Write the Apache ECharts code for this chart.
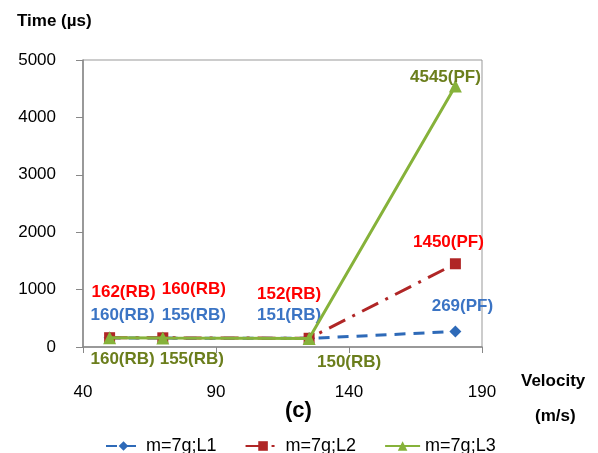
<!DOCTYPE html>
<html><head><meta charset="utf-8">
<script src="https://cdn.jsdelivr.net/npm/echarts@6/dist/echarts.min.js"></script>
<style>html,body{margin:0;padding:0;background:#fff}#c{width:598px;height:453px}</style>
</head><body><div id="c"></div>
<script>
var velocity = [50, 70, 125, 180];
var seriesNames = ['m=7g;L1', 'm=7g;L2', 'm=7g;L3'];
var timeL1 = [160, 155, 151, 269];
var timeL2 = [162, 160, 152, 1450];
var timeL3 = [160, 155, 150, 4545];
var modeL1 = ['RB', 'RB', 'RB', 'PF'];
var modeL2 = ['RB', 'RB', 'RB', 'PF'];
var modeL3 = ['RB', 'RB', 'RB', 'PF'];
var xTicks = [40, 90, 140, 190];
var yTicks = [0, 1000, 2000, 3000, 4000, 5000];

// label placement (style)
var offL1 = [[13,-23],[31,-23],[-20,-23],[7,-25]];
var offL2 = [[14,-45],[31,-49],[-20,-44],[-7,-21]];
var offL3 = [[13,21],[29,21],[40,24],[-10,-9]];

var FONT = '"Liberation Sans", Arial, sans-serif';

function build(vals, modes, offs, labelColor) {
  return vals.map(function (v, i) {
    return {
      value: [velocity[i], v],
      label: {
        show: true, position: 'inside', offset: offs[i],
        formatter: v + '(' + modes[i] + ')',
        color: labelColor, fontWeight: 'bold', fontSize: 17, fontFamily: FONT
      }
    };
  });
}

var chart = echarts.init(document.getElementById('c'));
chart.setOption({
  animation: false,
  backgroundColor: '#fff',
  grid: { left: 83, right: 116, top: 60, bottom: 106, show: true, borderColor: '#999', borderWidth: 1 },
  xAxis: {
    type: 'value', min: xTicks[0], max: xTicks[xTicks.length - 1], interval: 50,
    axisLine: { onZero: false, lineStyle: { color: '#888', width: 1.5 } },
    axisTick: { show: true, length: 6, lineStyle: { color: '#888' } },
    axisLabel: { margin: 37, color: '#000', fontSize: 17, fontFamily: FONT },
    splitLine: { show: false }
  },
  yAxis: {
    type: 'value', min: yTicks[0], max: yTicks[yTicks.length - 1], interval: 1000,
    axisLine: { show: true, lineStyle: { color: '#888', width: 1.5 } },
    axisTick: { show: true, length: 7, lineStyle: { color: '#888' } },
    axisLabel: { margin: 27, color: '#000', fontSize: 17, fontFamily: FONT, formatter: function (v) { return String(v); } },
    splitLine: { show: false }
  },
  legend: {
    top: 432, left: 100, itemGap: 28, itemWidth: 35, itemHeight: 12,
    data: seriesNames,
    textStyle: { color: '#000', fontSize: 18, fontFamily: FONT }
  },
  graphic: [
    { type: 'text', left: 17, top: 13, style: { text: 'Time (µs)', fill: '#000', font: 'bold 17px ' + FONT } },
    { type: 'text', left: 521, top: 373, style: { text: 'Velocity', fill: '#000', font: 'bold 17px ' + FONT } },
    { type: 'text', left: 535, top: 408, style: { text: '(m/s)', fill: '#000', font: 'bold 17px ' + FONT } },
    { type: 'text', left: 285, top: 400, style: { text: '(c)', fill: '#000', font: 'bold 22px ' + FONT } }
  ],
  series: [
    {
      name: seriesNames[0], type: 'line', data: build(timeL1, modeL1, offL1, '#3B74C4'),
      symbol: 'diamond', symbolSize: 12, color: '#2E6AB8',
      lineStyle: { width: 3, type: [11, 8], color: '#2E6AB8' },
      itemStyle: { color: '#2E6AB8' }, z: 2
    },
    {
      name: seriesNames[1], type: 'line', data: build(timeL2, modeL2, offL2, '#FF0000'),
      symbol: 'rect', symbolSize: 11, color: '#B02626',
      lineStyle: { width: 3, type: [18, 8, 3, 8], color: '#B02626' },
      itemStyle: { color: '#B02626' }, z: 3
    },
    {
      name: seriesNames[2], type: 'line', data: build(timeL3, modeL3, offL3, '#6B7E1C'),
      symbol: 'triangle', symbolSize: 13, color: '#86B23A',
      lineStyle: { width: 3, color: '#86B23A' },
      itemStyle: { color: '#86B23A' }, z: 4
    }
  ]
});
</script>
</body></html>
